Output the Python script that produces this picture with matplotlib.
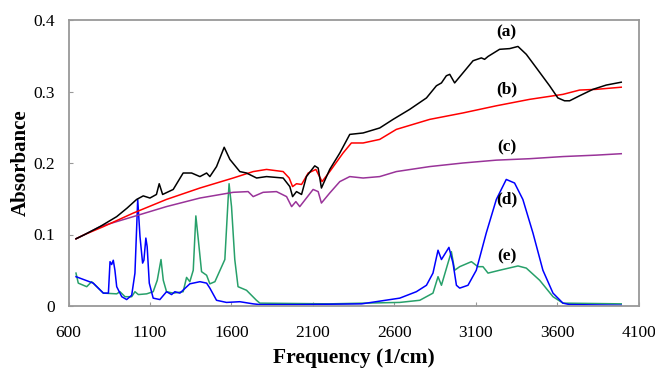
import matplotlib
matplotlib.use("Agg")
import matplotlib.pyplot as plt

# ---- data ----
xa = [646, 700, 793, 896, 960, 1018, 1059, 1100, 1140, 1157, 1178, 1243, 1304, 1356, 1407, 1448, 1468,
      1509, 1556, 1591, 1652, 1693, 1755, 1816, 1918, 1959, 1976, 2000, 2031, 2061, 2112, 2133, 2153,
      2204, 2266, 2327, 2409, 2511, 2593, 2695, 2798, 2859, 2890, 2920, 2941, 2971, 3022, 3084, 3135,
      3155, 3176, 3247, 3309, 3360, 3411, 3473, 3554, 3605, 3646, 3677, 3738, 3820, 3902, 3994]
ya = [0.094, 0.100, 0.111, 0.125, 0.137, 0.149, 0.154, 0.151, 0.156, 0.171, 0.156, 0.163, 0.186, 0.186,
      0.181, 0.186, 0.181, 0.195, 0.222, 0.205, 0.188, 0.186, 0.179, 0.181, 0.179, 0.167, 0.153, 0.160,
      0.156, 0.181, 0.196, 0.193, 0.165, 0.191, 0.214, 0.240, 0.242, 0.249, 0.261, 0.275, 0.291, 0.308,
      0.312, 0.322, 0.324, 0.312, 0.326, 0.343, 0.347, 0.345, 0.349, 0.359, 0.360, 0.363, 0.352, 0.333,
      0.308, 0.291, 0.287, 0.287, 0.294, 0.303, 0.309, 0.313]

xb = [646, 700, 814, 998, 1201, 1407, 1611, 1734, 1816, 1918, 1955, 1976, 2000, 2031, 2072, 2119, 2157,
      2204, 2286, 2337, 2409, 2511, 2613, 2818, 3022, 3227, 3431, 3636, 3738, 3840, 3994]
yb = [0.094, 0.100, 0.111, 0.130, 0.149, 0.165, 0.179, 0.188, 0.191, 0.188, 0.179, 0.167, 0.171, 0.170,
      0.186, 0.191, 0.174, 0.188, 0.214, 0.228, 0.228, 0.233, 0.247, 0.261, 0.270, 0.280, 0.289, 0.296,
      0.302, 0.303, 0.306]

xc = [646, 700, 793, 998, 1201, 1407, 1611, 1703, 1734, 1795, 1877, 1939, 1970, 1996, 2020, 2102, 2133,
      2153, 2204, 2266, 2327, 2409, 2511, 2613, 2818, 3022, 3227, 3431, 3636, 3840, 3994]
yc = [0.094, 0.100, 0.111, 0.125, 0.139, 0.151, 0.159, 0.160, 0.153, 0.159, 0.160, 0.153, 0.139, 0.146,
      0.139, 0.163, 0.160, 0.144, 0.158, 0.174, 0.181, 0.179, 0.181, 0.188, 0.195, 0.200, 0.204, 0.206,
      0.209, 0.211, 0.213]

xd = [646, 752, 814, 845, 855, 865, 875, 885, 896, 927, 957, 988, 1008, 1025, 1039, 1055, 1063, 1075,
      1083, 1096, 1120, 1161, 1202, 1233, 1253, 1284, 1345, 1407, 1448, 1468, 1509, 1570, 1652, 1734,
      1775, 2000, 2400, 2634, 2736, 2798, 2838, 2869, 2890, 2936, 2961, 2982, 3002, 3053, 3104, 3165,
      3227, 3288, 3339, 3390, 3452, 3513, 3575, 3636, 3677, 3994]
yd = [0.041, 0.032, 0.018, 0.018, 0.062, 0.058, 0.064, 0.050, 0.027, 0.013, 0.009, 0.015, 0.046, 0.149,
      0.097, 0.060, 0.064, 0.095, 0.083, 0.032, 0.011, 0.009, 0.020, 0.016, 0.020, 0.018, 0.031, 0.034,
      0.032, 0.025, 0.008, 0.005, 0.006, 0.003, 0.002, 0.002, 0.003, 0.011, 0.020, 0.029, 0.046, 0.078,
      0.065, 0.082, 0.060, 0.029, 0.025, 0.029, 0.050, 0.102, 0.149, 0.177, 0.172, 0.149, 0.102, 0.050,
      0.018, 0.004, 0.002, 0.001]

xe = [646, 660, 712, 742, 814, 896, 916, 947, 988, 1008, 1029, 1080, 1120, 1145, 1168, 1182, 1202, 1243,
      1304, 1325, 1345, 1366, 1382, 1397, 1417, 1448, 1468, 1499, 1560, 1580, 1586, 1601, 1621, 1641,
      1693, 1754, 1775, 2200, 2634, 2757, 2838, 2869, 2890, 2930, 2951, 2971, 3002, 3074, 3114, 3145,
      3176, 3247, 3360, 3411, 3493, 3575, 3636, 3994]
ye = [0.046, 0.032, 0.027, 0.034, 0.018, 0.017, 0.020, 0.013, 0.013, 0.020, 0.016, 0.017, 0.020, 0.036,
      0.065, 0.036, 0.020, 0.018, 0.020, 0.040, 0.034, 0.050, 0.126, 0.093, 0.048, 0.043, 0.031, 0.034,
      0.065, 0.149, 0.171, 0.139, 0.065, 0.027, 0.022, 0.008, 0.004, 0.003, 0.005, 0.008, 0.018, 0.041,
      0.029, 0.060, 0.076, 0.050, 0.055, 0.062, 0.055, 0.055, 0.046, 0.050, 0.056, 0.053, 0.036, 0.013,
      0.004, 0.003]

series_labels = ["(a)", "(b)", "(c)", "(d)", "(e)"]
label_y = [0.383, 0.303, 0.222, 0.149, 0.069]
label_x = 3290
xticks = [600, 1100, 1600, 2100, 2600, 3100, 3600, 4100]
yticks = [0, 0.1, 0.2, 0.3, 0.4]
ytick_labels = ["0", "0.1", "0.2", "0.3", "0.4"]

# ---- plot ----
plt.rcParams['font.family'] = ['Liberation Serif', 'DejaVu Serif']
fig = plt.figure(figsize=(6.55, 3.72), dpi=100)
ax = fig.add_axes([68.5/655, 66/372, 570/655, 286/372])

lw = 1.1
ax.plot(xe, ye, color='#27a06a', lw=lw)
ax.plot(xd, yd, color='#0000ff', lw=lw)
ax.plot(xc, yc, color='#993399', lw=lw)
ax.plot(xb, yb, color='#ff0000', lw=lw)
ax.plot(xa, ya, color='#000000', lw=lw)

for lab, yy in zip(series_labels, label_y):
    ax.text(label_x, yy, lab, ha='center', va='center', fontsize=12.5, fontweight='bold')

ax.set_xlim(600, 4100)
ax.set_ylim(0, 0.4)
ax.set_xticks(xticks)
ax.set_yticks(yticks)
ax.set_yticklabels(ytick_labels)
ax.tick_params(direction='in', length=3, color='#999999', labelsize=12.5)
ax.tick_params(axis='x', pad=14)
ax.tick_params(axis='y', pad=10)
for s in ax.spines.values():
    s.set_color('#999999')
    s.set_linewidth(1.3)

ax.set_xlabel('Frequency (1/cm)', fontsize=15.5, fontweight='bold', labelpad=5)
ax.set_ylabel('Absorbance', fontsize=15, fontweight='bold', labelpad=1.5)

fig.savefig('out.png', dpi=100)
